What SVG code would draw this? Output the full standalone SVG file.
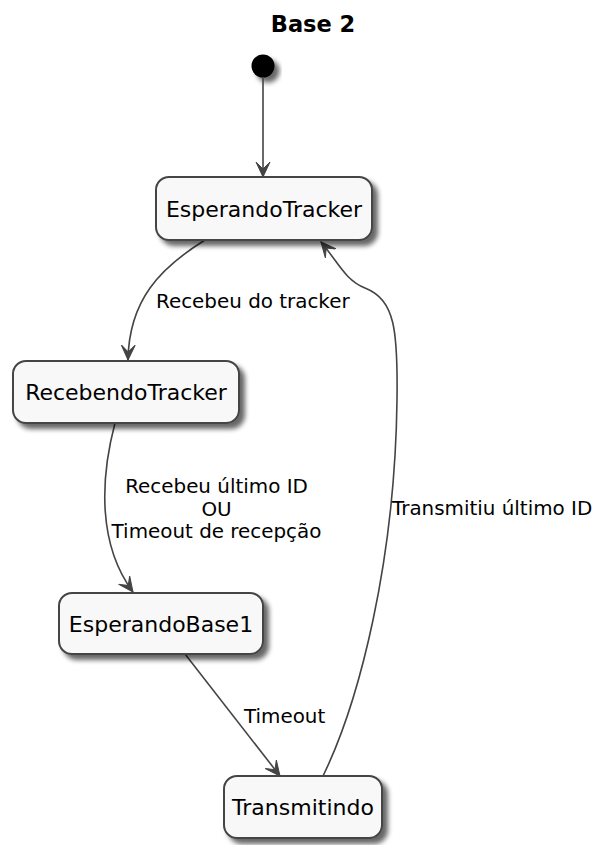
<svg xmlns="http://www.w3.org/2000/svg" width="597" height="845" viewBox="0 0 597 845">
<style>
.node rect{fill:#F8F8F8;stroke:#444444;stroke-width:2;filter:url(#sh)}
.node text{font-family:"DejaVu Sans",sans-serif;font-size:22px;fill:#000;text-anchor:middle}
.edge{fill:none;stroke:#444444;stroke-width:1.6;marker-end:url(#arr)}
.lbl{font-family:"DejaVu Sans",sans-serif;font-size:19.9px;fill:#000}
.title{font-family:"DejaVu Sans",sans-serif;font-size:22.5px;font-weight:bold;fill:#000;text-anchor:middle}
</style>
<defs>
<filter id="sh" x="-20%" y="-20%" width="150%" height="160%">
<feGaussianBlur in="SourceAlpha" stdDeviation="2.5"/>
<feOffset dx="5" dy="5" result="b"/>
<feComponentTransfer><feFuncA type="linear" slope="0.6"/></feComponentTransfer>
<feMerge><feMergeNode/><feMergeNode in="SourceGraphic"/></feMerge>
</filter>
<marker id="arr" viewBox="-15 -8 16 16" refX="0" refY="0" markerWidth="16" markerHeight="16" markerUnits="userSpaceOnUse" orient="auto">
<path d="M0,0 L-15,-7 L-8,0 L-15,7 Z" fill="#444444" stroke="#444444" stroke-width="1"/>
</marker>
</defs>
<rect width="597" height="845" fill="#FFFFFF"/>
<text class="title" x="313" y="32">Base 2</text>
<g id="start">
<circle cx="263" cy="66" r="11.5" fill="#000" filter="url(#sh)"/>
</g>
<g id="connectors">
<path class="edge" d="M263,77 L263,177"/>
<path class="edge" d="M205,240 C160,268 129,300 128,360"/>
<path class="edge" d="M115,423 C100,480 98,545 133,592"/>
<path class="edge" d="M185,654 L280,776"/>
<path class="edge" d="M323,776 C360,700 395,560 397,400 C398,330 395,300 365,288 C345,280 338,262 321,242"/>
<text class="lbl" x="156" y="308">Recebeu do tracker</text>
<text class="lbl" x="216.5" y="493" text-anchor="middle">Recebeu último ID</text>
<text class="lbl" x="216.5" y="515.5" text-anchor="middle">OU</text>
<text class="lbl" x="216.5" y="538" text-anchor="middle">Timeout de recepção</text>
<text class="lbl" x="244" y="723">Timeout</text>
<text class="lbl" x="392" y="515">Transmitiu último ID</text>
</g>
<g id="EsperandoTracker" class="node">
<rect x="156" y="177" width="216" height="63" rx="13" ry="13"/>
<text x="264" y="217">EsperandoTracker</text>
</g>
<g id="RecebendoTracker" class="node">
<rect x="13" y="361" width="226" height="62" rx="13" ry="13"/>
<text x="126" y="400">RecebendoTracker</text>
</g>
<g id="EsperandoBase1" class="node">
<rect x="59" y="593" width="204" height="61" rx="13" ry="13"/>
<text x="161" y="632">EsperandoBase1</text>
</g>
<g id="Transmitindo" class="node">
<rect x="224" y="776" width="158" height="62" rx="13" ry="13"/>
<text x="303" y="815">Transmitindo</text>
</g>
</svg>
